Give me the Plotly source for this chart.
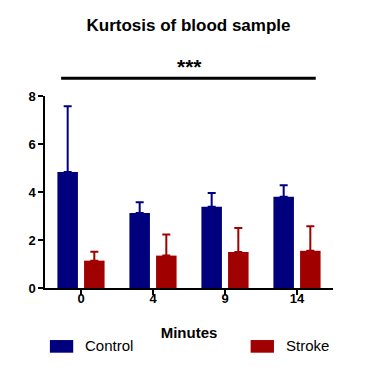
import plotly.graph_objects as go

minutes = ["0", "4", "9", "14"]
control_mean = [4.83, 3.12, 3.39, 3.80]
control_err = [2.74, 0.45, 0.57, 0.48]
stroke_mean = [1.14, 1.35, 1.50, 1.55]
stroke_err = [0.37, 0.88, 1.00, 1.02]
y_ticks = [0, 2, 4, 6, 8]

NAVY = "#00007F"
RED = "#A00000"
FONT = "Arial"

fig = go.Figure()
fig.add_trace(go.Bar(
    x=minutes, y=control_mean, name="Control", marker_color=NAVY, marker_line_width=0,
    error_y=dict(type="data", array=control_err, arrayminus=[0]*4, symmetric=False,
                 color=NAVY, thickness=2, width=4),
))
fig.add_trace(go.Bar(
    x=minutes, y=stroke_mean, name="Stroke", marker_color=RED, marker_line_width=0,
    error_y=dict(type="data", array=stroke_err, arrayminus=[0]*4, symmetric=False,
                 color=RED, thickness=2, width=4),
))

fig.update_layout(
    width=377, height=370,
    margin=dict(l=45, r=44, t=96, b=82, autoexpand=False),
    paper_bgcolor="white", plot_bgcolor="white",
    barmode="group", bargap=0.26, bargroupgap=0.23,
    showlegend=False,
    font=dict(family=FONT, color="black"),
    title=dict(text="Kurtosis of blood sample", x=0.5, xanchor="center",
               y=1 - 25/370, yanchor="middle",
               font=dict(size=17, color="black", family=FONT, weight="bold")),
    xaxis=dict(
        showline=True, linecolor="black", linewidth=1.5,
        ticks="outside", ticklen=5, tickwidth=1.5, tickcolor="black",
        ticklabelstandoff=-7,
        tickfont=dict(size=13, family=FONT, weight="bold"), showgrid=False,
        title=dict(text="Minutes", font=dict(size=15, family=FONT, weight="bold"), standoff=22),
    ),
    yaxis=dict(
        range=[0, 8], tickvals=y_ticks, showline=True, linecolor="black", linewidth=1.5,
        ticks="outside", ticklen=5, tickwidth=1.5, tickcolor="black",
        tickfont=dict(size=13, family=FONT, weight="bold"), showgrid=False, zeroline=False,
    ),
)

# significance bar
fig.add_shape(type="line", xref="paper", yref="paper", x0=0.056, x1=0.94,
              y0=1.092, y1=1.092, line=dict(color="black", width=3))
fig.add_annotation(text="***", xref="paper", yref="paper", x=0.5, y=1.155,
                   showarrow=False, font=dict(size=21, color="black", family=FONT, weight="bold"),
                   xanchor="center", yanchor="middle")

# legend
legend_items = [("Control", NAVY, 0.017, 0.132), ("Stroke", RED, 0.714, 0.83)]
for name, col, sx, tx in legend_items:
    fig.add_shape(type="rect", xref="paper", yref="paper", x0=sx, x1=sx + 0.081,
                  y0=-0.337, y1=-0.271, fillcolor=col, line_width=0)
    fig.add_annotation(text=name, xref="paper", yref="paper", x=tx, y=-0.302,
                       showarrow=False, xanchor="left", yanchor="middle",
                       font=dict(size=15, color="black", family=FONT))

fig.write_html("out.html", config={"displayModeBar": False},
               post_script="document.body.style.margin='0';")
